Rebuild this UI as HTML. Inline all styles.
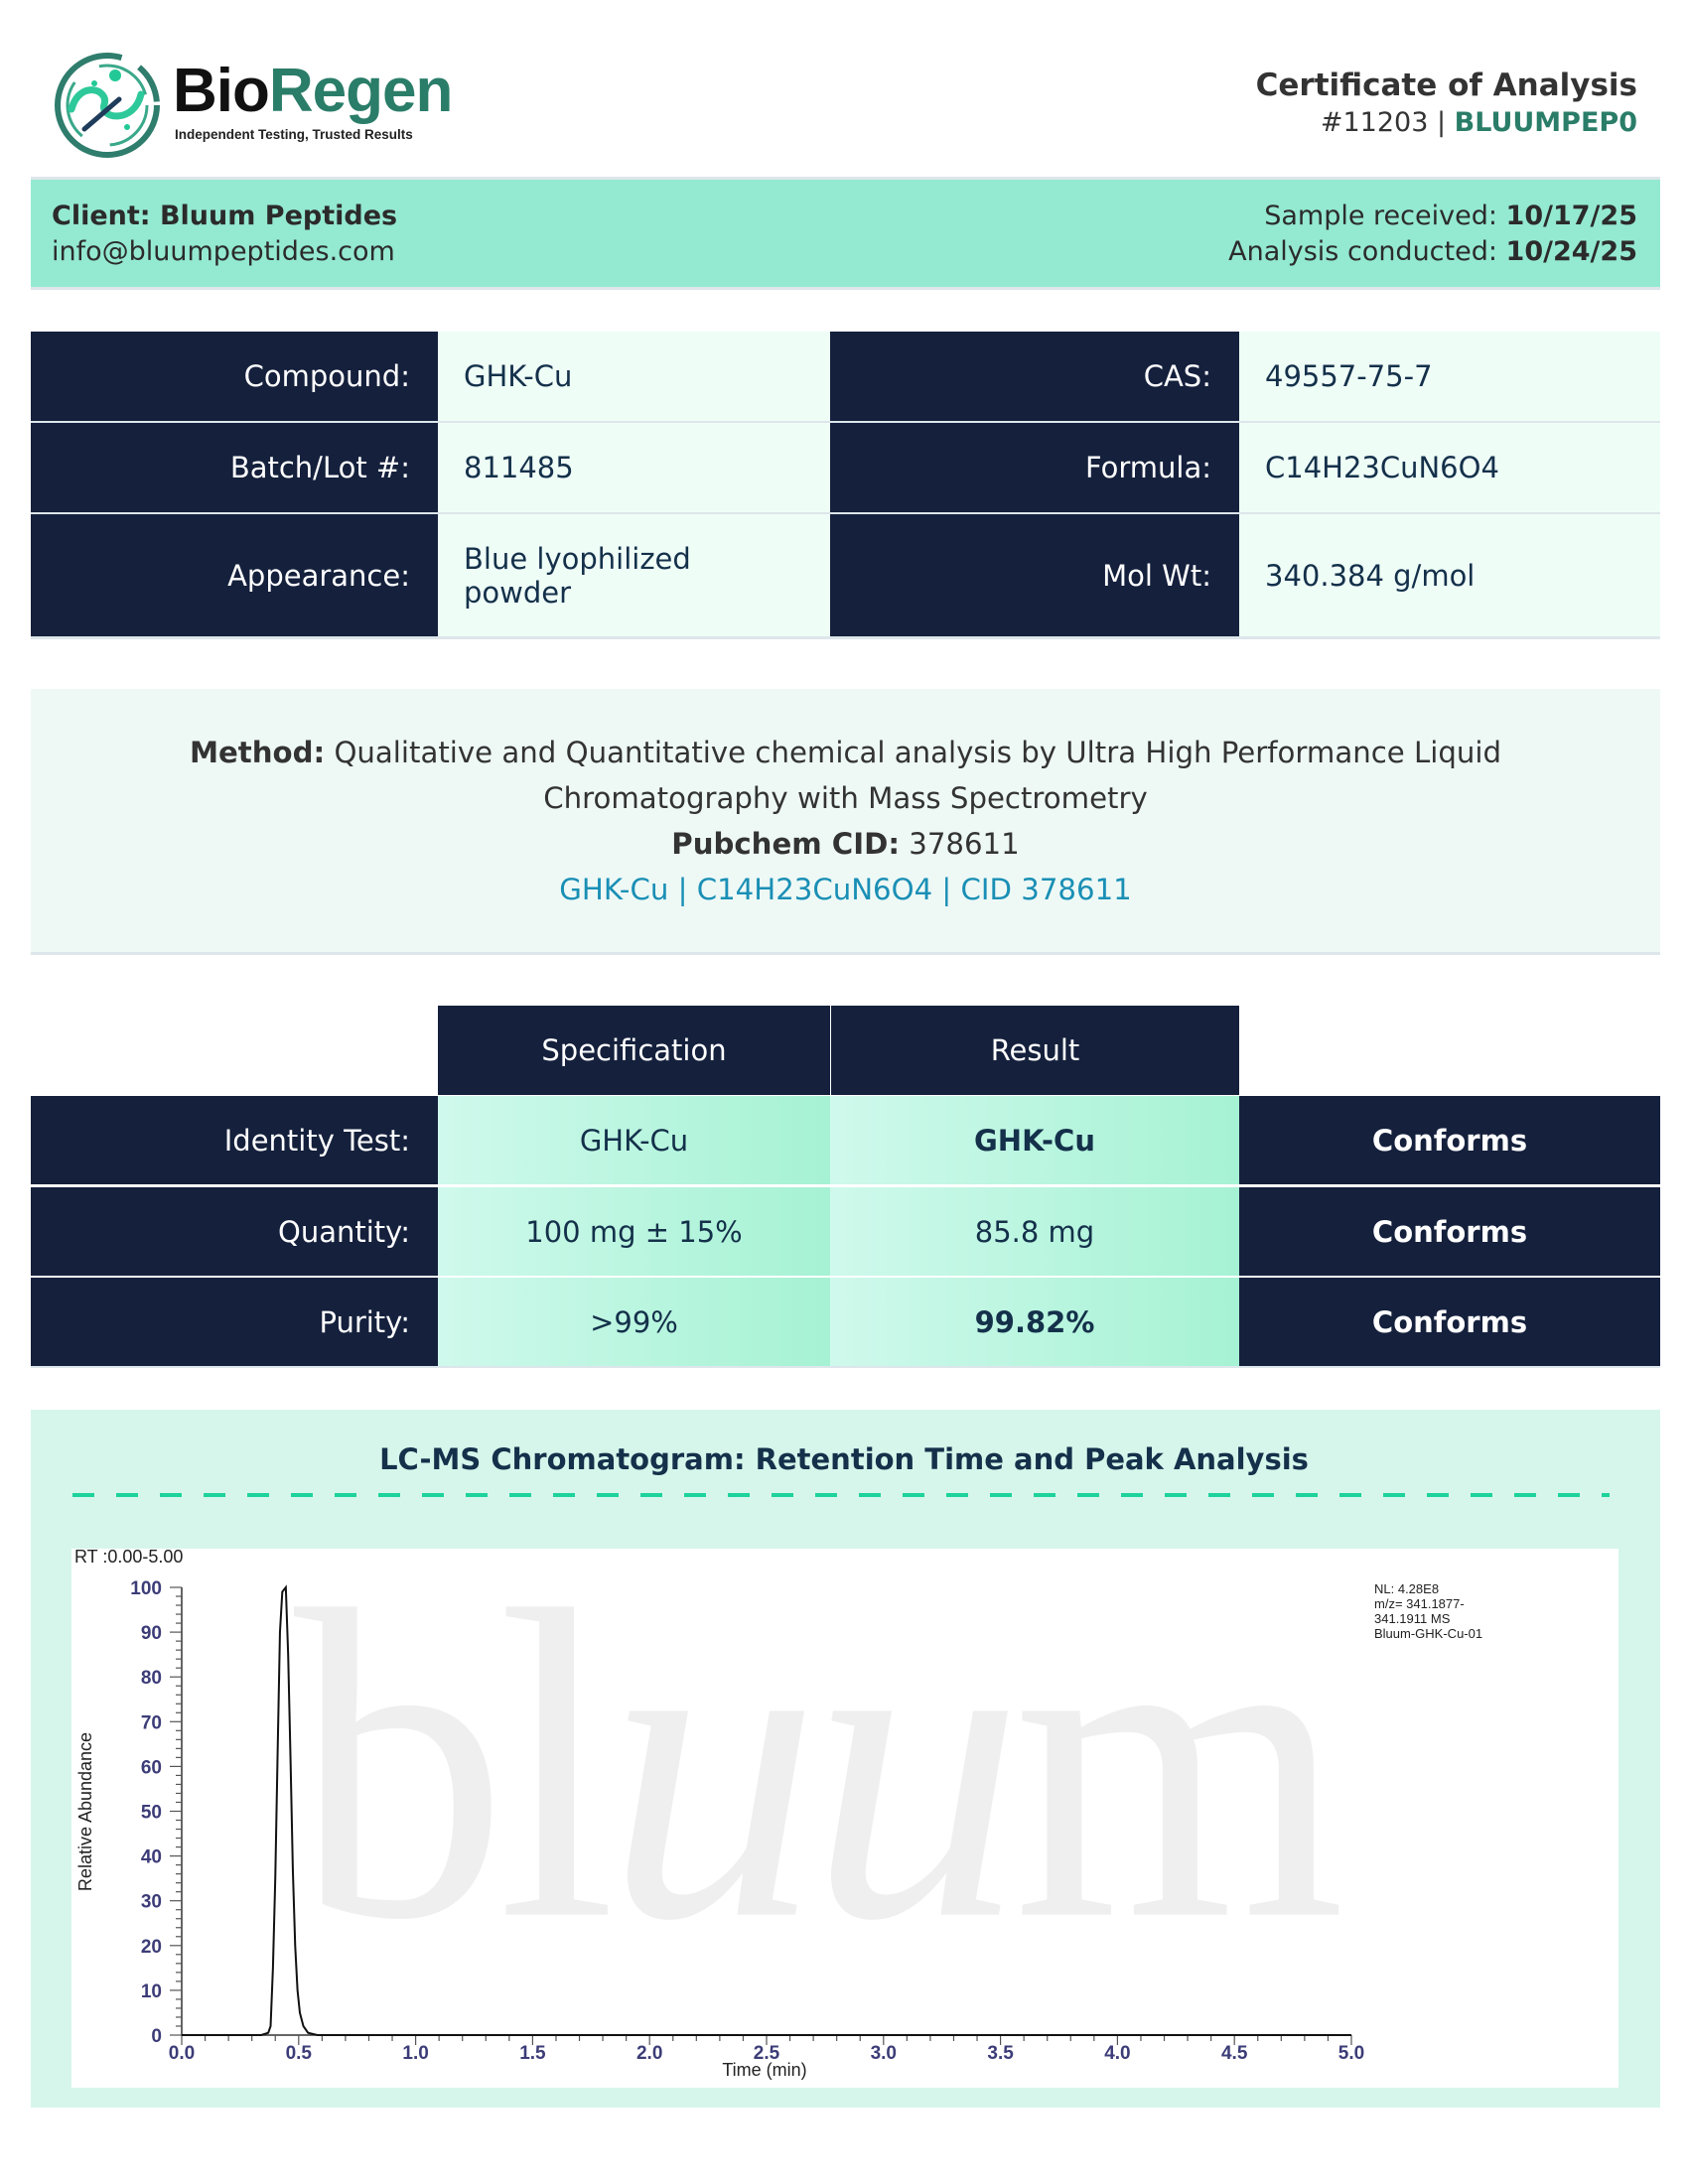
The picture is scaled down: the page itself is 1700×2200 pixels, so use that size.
<!DOCTYPE html>
<html><head><meta charset="utf-8"><style>
*{margin:0;padding:0;box-sizing:border-box}
body{width:1700px;height:2200px;background:#fff;font-family:"DejaVu Sans","Liberation Sans",sans-serif;position:relative;overflow:hidden;color:#2b2b2b}
.a{position:absolute}
.navy{background:#14203c;color:#fff}
.cell{position:absolute;display:flex;align-items:center;font-size:29px}
.lbl{justify-content:flex-end;padding-right:28px}
.val{background:#effdf7;color:#14304a;padding-left:26px}
.g{background:linear-gradient(90deg,#cff9ec,#a6f2d4);color:#14304a;justify-content:center}
</style></head><body>
<svg class="a" style="left:50px;top:50px" width="120" height="112" viewBox="0 0 120 112">
<circle cx="58" cy="56" r="50" fill="none" stroke="#2f7d6c" stroke-width="6" stroke-dasharray="250 20 40 20"/>
<circle cx="58" cy="56" r="40" fill="none" stroke="#3aa88a" stroke-width="3" stroke-dasharray="60 30"/>
<path d="M22 60 C30 30 60 40 55 55 C50 70 85 75 92 45" fill="none" stroke="#2ec99a" stroke-width="7" stroke-linecap="round"/>
<path d="M35 80 L70 50" stroke="#1f3c5a" stroke-width="5" stroke-linecap="round"/>
<circle cx="66" cy="26" r="6" fill="#22c996"/><circle cx="45" cy="34" r="3" fill="#22c996"/><circle cx="78" cy="78" r="3" fill="#22c996"/>
</svg>
<div class="a" style="left:174px;top:56px;font-family:'Liberation Sans',sans-serif;font-weight:bold;font-size:62px;letter-spacing:-1px;color:#111">Bio<span style="color:#2a7d68">Regen</span></div>
<div class="a" style="left:176px;top:128px;font-family:'Liberation Sans',sans-serif;font-weight:bold;font-size:13.5px;color:#222">Independent Testing, Trusted Results</div>
<div class="a" style="right:51px;top:68px;font-size:31px;font-weight:bold;text-align:right;color:#333">Certificate of Analysis</div>
<div class="a" style="right:51px;top:108px;font-size:27px;text-align:right;color:#333">#11203 | <b style="color:#2a7d68">BLUUMPEP0</b></div>
<div class="a" style="left:31px;top:178px;width:1641px;height:114px;background:#94e9d1;border-top:3px solid #dde6ea;border-bottom:3px solid #dde6ea"></div>
<div class="a" style="left:52px;top:202px;font-size:27px;font-weight:bold;color:#2b2b2b">Client: Bluum Peptides</div>
<div class="a" style="left:52px;top:238px;font-size:27px;color:#2b2b2b">info@bluumpeptides.com</div>
<div class="a" style="right:51px;top:202px;font-size:27px;text-align:right">Sample received: <b>10/17/25</b></div>
<div class="a" style="right:51px;top:238px;font-size:27px;text-align:right">Analysis conducted: <b>10/24/25</b></div>
<div class="cell navy lbl" style="left:31px;top:334px;width:410px;height:90px">Compound:</div>
<div class="cell val" style="left:441px;top:334px;width:395px;height:90px">GHK-Cu</div>
<div class="cell navy lbl" style="left:836px;top:334px;width:412px;height:90px">CAS:</div>
<div class="cell val" style="left:1248px;top:334px;width:424px;height:90px">49557-75-7</div>
<div class="cell navy lbl" style="left:31px;top:426px;width:410px;height:90px">Batch/Lot #:</div>
<div class="cell val" style="left:441px;top:426px;width:395px;height:90px">811485</div>
<div class="cell navy lbl" style="left:836px;top:426px;width:412px;height:90px">Formula:</div>
<div class="cell val" style="left:1248px;top:426px;width:424px;height:90px">C14H23CuN6O4</div>
<div class="cell navy lbl" style="left:31px;top:518px;width:410px;height:123px">Appearance:</div>
<div class="cell val" style="left:441px;top:518px;width:395px;height:123px;line-height:34px">Blue lyophilized<br>powder</div>
<div class="cell navy lbl" style="left:836px;top:518px;width:412px;height:123px">Mol Wt:</div>
<div class="cell val" style="left:1248px;top:518px;width:424px;height:123px">340.384 g/mol</div>
<div class="a" style="left:31px;top:424px;width:1641px;height:2px;background:#dde6ea"></div>
<div class="a" style="left:31px;top:516px;width:1641px;height:2px;background:#dde6ea"></div>
<div class="a" style="left:31px;top:641px;width:1641px;height:3px;background:#dde6ea"></div>
<div class="a" style="left:31px;top:694px;width:1641px;height:268px;background:#eef9f6;border-bottom:3px solid #dde6ea;text-align:center;font-size:29.2px;line-height:46px;padding-top:41px;color:#333">
<b>Method:</b> Qualitative and Quantitative chemical analysis by Ultra High Performance Liquid<br>Chromatography with Mass Spectrometry<br><b>Pubchem CID:</b> 378611<br><span style="color:#1a8fb5">GHK-Cu | C14H23CuN6O4 | CID 378611</span></div>
<div class="cell navy" style="left:441px;top:1013px;width:395px;height:90px;justify-content:center">Specification</div>
<div class="cell navy" style="left:837px;top:1013px;width:411px;height:90px;justify-content:center">Result</div>
<div class="cell navy lbl" style="left:31px;top:1104px;width:410px;height:89px">Identity Test:</div>
<div class="cell g" style="left:441px;top:1104px;width:395px;height:89px">GHK-Cu</div>
<div class="cell g" style="left:836px;top:1104px;width:412px;height:89px;font-weight:bold">GHK-Cu</div>
<div class="cell navy" style="left:1248px;top:1104px;width:424px;height:89px;justify-content:center;font-weight:bold">Conforms</div>
<div class="cell navy lbl" style="left:31px;top:1196px;width:410px;height:89px">Quantity:</div>
<div class="cell g" style="left:441px;top:1196px;width:395px;height:89px">100 mg ± 15%</div>
<div class="cell g" style="left:836px;top:1196px;width:412px;height:89px">85.8 mg</div>
<div class="cell navy" style="left:1248px;top:1196px;width:424px;height:89px;justify-content:center;font-weight:bold">Conforms</div>
<div class="cell navy lbl" style="left:31px;top:1287px;width:410px;height:89px">Purity:</div>
<div class="cell g" style="left:441px;top:1287px;width:395px;height:89px">&gt;99%</div>
<div class="cell g" style="left:836px;top:1287px;width:412px;height:89px;font-weight:bold">99.82%</div>
<div class="cell navy" style="left:1248px;top:1287px;width:424px;height:89px;justify-content:center;font-weight:bold">Conforms</div>
<div class="a" style="left:31px;top:1376px;width:1641px;height:2px;background:#dde6ea"></div>
<div class="a" style="left:31px;top:1420px;width:1641px;height:703px;background:#d6f6eb"></div>
<div class="a" style="left:0;top:1453px;width:1700px;text-align:center;font-size:29px;font-weight:bold;color:#14304a">LC-MS Chromatogram: Retention Time and Peak Analysis</div>
<div class="a" style="left:73px;top:1504px;width:1548px;height:4px;background:repeating-linear-gradient(90deg,#1dd39b 0 22px,transparent 22px 44px)"></div>
<div class="a" style="left:72px;top:1560px;width:1558px;height:543px;background:#fff"></div>
<div class="a" style="left:296px;top:1522px;font-family:'Liberation Serif',serif;font-size:430px;color:#efefef;letter-spacing:-10px;transform:scaleY(1.04);transform-origin:top left">bl<i>uu</i>m</div>
<svg class="a" style="left:0;top:0" width="1700" height="2200">
<g font-family="Liberation Sans,sans-serif">
<text x="75" y="1574" font-size="18" fill="#222">RT :0.00-5.00</text>
<text x="1384" y="1605" font-size="13" fill="#222">NL: 4.28E8</text>
<text x="1384" y="1620" font-size="13" fill="#222">m/z= 341.1877-</text>
<text x="1384" y="1635" font-size="13" fill="#222">341.1911 MS</text>
<text x="1384" y="1650" font-size="13" fill="#222">Bluum-GHK-Cu-01</text>
<text transform="translate(92,1825) rotate(-90)" text-anchor="middle" font-size="18" fill="#222">Relative Abundance</text>
<text x="770" y="2091" text-anchor="middle" font-size="18" fill="#222">Time (min)</text>
</g>
<g stroke="#333" stroke-width="1.5">
<line x1="183" y1="1599" x2="183" y2="2050"/>
<line x1="183" y1="2050" x2="1361" y2="2050"/>
</g>
<g id="ticks" stroke="#555" stroke-width="1.2"></g>
<g id="lab" font-family="Liberation Sans,sans-serif" font-size="19" font-weight="bold" fill="#3c3c78"></g>
<polyline id="pk" fill="none" stroke="#111" stroke-width="2" points=""/>
</svg>
<script>
function X(t){return 183+235.6*t}function Y(v){return 2050-4.51*v}
var t=document.getElementById('ticks'),l=document.getElementById('lab'),s='',h='';
for(var v=0;v<=100;v+=2){var y=Y(v),m=v%10==0;s+='<line x1="'+(m?171:177)+'" y1="'+y+'" x2="183" y2="'+y+'"/>';if(m)h+='<text x="163" y="'+(y+7)+'" text-anchor="end">'+v+'</text>';}
for(var i=0;i<=50;i++){var x=X(i/10),m=i%5==0;s+='<line x1="'+x+'" y1="2050" x2="'+x+'" y2="'+(m?2060:2056)+'"/>';if(m)h+='<text x="'+x+'" y="2074" text-anchor="middle">'+(i/10).toFixed(1)+'</text>';}
t.innerHTML=s;l.innerHTML=h;
var P=[[0,0],[0.34,0],[0.37,0.5],[0.38,2],[0.39,15],[0.40,35],[0.41,63],[0.42,90],[0.43,99],[0.445,100],[0.455,85],[0.465,62],[0.475,37],[0.485,20],[0.495,10],[0.505,5],[0.52,2],[0.54,0.5],[0.58,0],[5,0]];
document.getElementById('pk').setAttribute('points',P.map(function(p){return X(p[0])+','+Y(p[1])}).join(' '));
</script>
</body></html>
